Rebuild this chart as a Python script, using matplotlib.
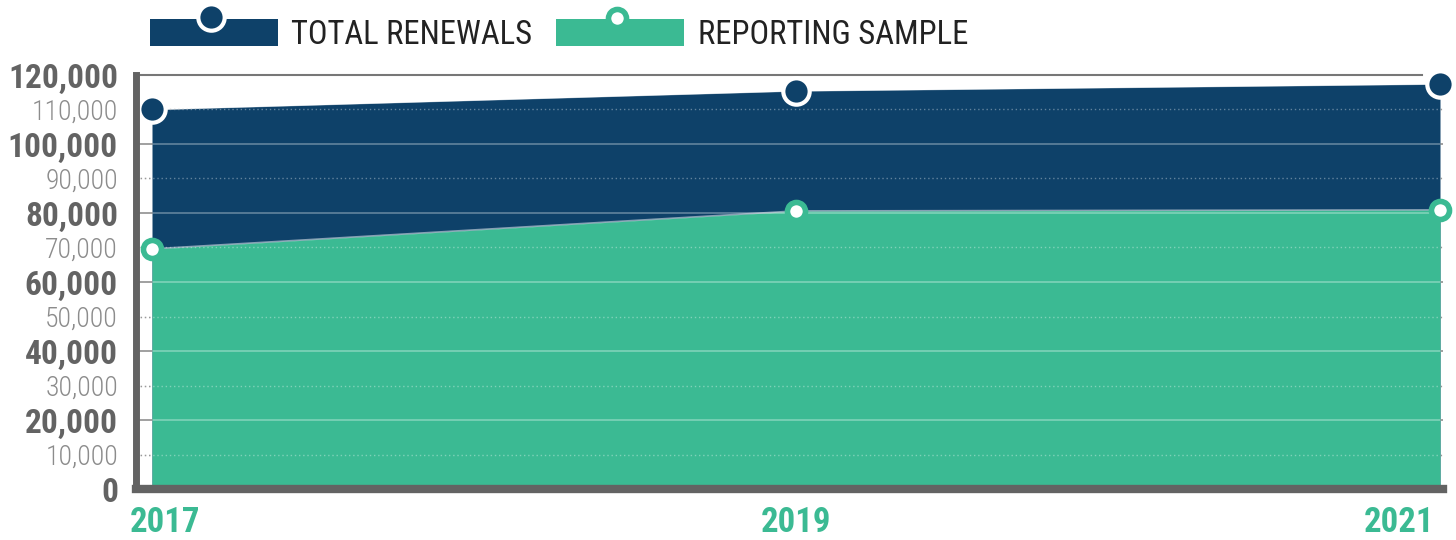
import matplotlib
matplotlib.use("Agg")
import matplotlib.pyplot as plt
from matplotlib import font_manager as fm
from matplotlib.patches import Rectangle
from matplotlib.lines import Line2D
from matplotlib.transforms import offset_copy

years = [2017, 2019, 2021]
total_renewals = [110000, 115400, 117400]
reporting_sample = [69600, 80600, 80900]
year_labels = ["2017", "2019", "2021"]
major_ticks = [0, 20000, 40000, 60000, 80000, 100000, 120000]
minor_ticks = [10000, 30000, 50000, 70000, 90000, 110000]
series_names = ["TOTAL RENEWALS", "REPORTING SAMPLE"]

BLUE = "#0e4169"
GREEN = "#3bba93"
DARK = "#636363"
LIGHT = "#8c8c8c"

names = {f.name for f in fm.fontManager.ttflist}
cond = None
for cand in ["Roboto Condensed", "Liberation Sans Narrow", "DejaVu Sans Condensed", "Open Sans Condensed"]:
    if cand in names:
        cond = cand
        break
if cond is None:
    cond = "DejaVu Sans"

W, H = 1456, 540
fig = plt.figure(figsize=(W / 100, H / 100), dpi=100)

px_per_year = (1440 - 152) / 4.0
x_left = 2017 - (152 - 136) / px_per_year
x_right = 2021 + (1443 - 1440) / px_per_year
ax = fig.add_axes([136 / W, (H - 489) / H, (1443 - 136) / W, (489 - 75) / H])
ax.set_xlim(x_left, x_right)
ax.set_ylim(0, 120000)

# grid beneath fill (dark on white)
for t in major_ticks[1:-1]:
    ax.axhline(t, color=DARK, lw=1.2, zorder=0)
for t in minor_ticks:
    ax.axhline(t, color=DARK, lw=1.0, ls=(0, (1, 2)), zorder=0)
ax.axhline(120000, color="#777777", lw=1.5, xmax=0.984, zorder=0, clip_on=False)

ax.fill_between(years, 0, total_renewals, color=BLUE, lw=0, zorder=1)
ax.fill_between(years, 0, reporting_sample, color=GREEN, lw=0, zorder=1.1)
ax.plot(years, total_renewals, color="white", alpha=0.5, lw=1.2, zorder=1.2)
ax.plot(years, reporting_sample, color="white", alpha=0.5, lw=1.2, zorder=1.2)

# grid over fill (light)
for t in major_ticks[1:-1]:
    ax.axhline(t, color="white", alpha=0.35, lw=1.2, zorder=2)
for t in minor_ticks:
    ax.axhline(t, color="white", alpha=0.35, lw=1.0, ls=(0, (1, 2)), zorder=2)

# markers
ax.plot(years, total_renewals, ls="none", marker="o", ms=19, mfc=BLUE, mec="white", mew=3,
        zorder=5, clip_on=False)
ax.plot(years, reporting_sample, ls="none", marker="o", ms=13, mfc="white", mec=GREEN, mew=4,
        zorder=5, clip_on=False)

for s in ["top", "right"]:
    ax.spines[s].set_visible(False)
ax.spines["left"].set_color(DARK)
ax.spines["left"].set_linewidth(5)
ax.spines["bottom"].set_color(DARK)
ax.spines["bottom"].set_linewidth(6)
ax.spines["left"].set_zorder(6)
ax.spines["bottom"].set_zorder(6)

ax.set_yticks(major_ticks)
ax.set_yticklabels([f"{v:,}" for v in major_ticks], fontfamily=cond, fontweight="bold",
                   fontsize=24, color=DARK)
ax.set_yticks(minor_ticks, minor=True)
ax.set_yticklabels([f"{v:,}" for v in minor_ticks], minor=True, fontfamily=cond,
                   fontweight="light", fontsize=20, color=LIGHT)
ax.tick_params(axis="y", which="both", length=0, pad=13)

ax.set_xticks(years)
ax.set_xticklabels(year_labels, fontfamily=cond, fontweight="bold", fontsize=25, color=GREEN)
ax.tick_params(axis="x", length=0, pad=12)
labs = ax.get_xticklabels()
labs[0].set_ha("left")
labs[-1].set_ha("right")
labs[0].set_transform(offset_copy(labs[0].get_transform(), fig=fig, x=-22, units="dots"))
labs[-1].set_transform(offset_copy(labs[-1].get_transform(), fig=fig, x=-6, units="dots"))

# legend
def legend_item(x0, color, name, tx, ring):
    fig.add_artist(Rectangle((x0 / W, (H - 46) / H), 128 / W, 27 / H, transform=fig.transFigure,
                             color=color, lw=0))
    cx = (x0 + 61) / W
    if ring:
        fig.add_artist(Line2D([cx], [(H - 18) / H], transform=fig.transFigure, marker="o", ms=13,
                              mfc="white", mec=GREEN, mew=4, ls="none"))
    else:
        fig.add_artist(Line2D([cx], [(H - 17) / H], transform=fig.transFigure, marker="o", ms=19,
                              mfc=BLUE, mec="white", mew=3, ls="none"))
    fig.text(tx / W, (H - 35) / H, name, fontfamily=cond, fontsize=23.5, color="#222222",
             va="center", ha="left")

legend_item(150, BLUE, series_names[0], 291, False)
legend_item(556, GREEN, series_names[1], 698, True)

fig.savefig("out.png", dpi=100)
